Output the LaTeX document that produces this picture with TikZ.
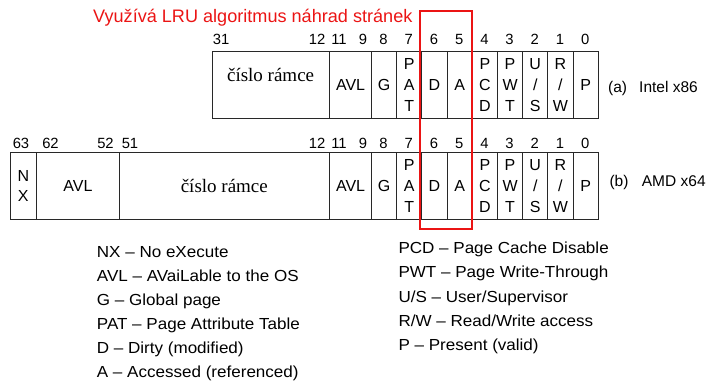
\documentclass[tikz,border=0pt]{standalone}
\usepackage{fontspec}
\setmainfont{Liberation Sans}
\newfontfamily\ramfont{Liberation Serif}
\newfontfamily\legendfont{Liberation Sans}[FakeStretch=1.065]
\definecolor{lrured}{RGB}{235,20,20}
\definecolor{cellline}{RGB}{40,40,40}
\begin{document}
\begin{tikzpicture}[x=1pt,y=-1pt,
  cell/.style={draw=cellline, line width=0.9pt, inner sep=0pt, anchor=north west,
    align=center, font=\fontsize{16}{20.7}\selectfont},
  bitno/.style={inner sep=0pt, anchor=base, font=\fontsize{14.8}{16}\selectfont},
  ramtext/.style={inner sep=0pt, font=\ramfont\fontsize{19}{22}\selectfont},
  archlbl/.style={inner sep=0pt, anchor=base west, font=\fontsize{15.5}{18}\selectfont},
  legend/.style={inner sep=0pt, anchor=base west, font=\legendfont\fontsize{16}{18}\selectfont},
  lrubox/.style={draw=lrured, line width=2pt},
]
\useasboundingbox (0,0) rectangle (709,387);

% title
\node[inner sep=0pt, anchor=base west, text=lrured, font=\fontsize{18.1}{20}\selectfont]
  (title) at (93,22.7) {Využívá LRU algoritmus náhrad stránek};

% ---------- row (a) Intel x86 ----------
\def\ta{50.7}\def\ha{67.6}
\node[cell, minimum width=117.3, minimum height=\ha] (aram) at (212,\ta) {};
\node[ramtext] (aramt) at (270.6,75) {číslo rámce};
\node[cell, minimum width=41.7, minimum height=\ha] (aavl) at (329.3,\ta) {AVL};
\node[cell, minimum width=25.2, minimum height=\ha] (ag) at (371,\ta) {G};
\node[cell, minimum width=25.2, minimum height=\ha] (apat) at (396.2,\ta) {P\\A\\T};
\node[cell, minimum width=25.2, minimum height=\ha] (ad) at (421.4,\ta) {D};
\node[cell, minimum width=25.2, minimum height=\ha] (aa) at (446.6,\ta) {A};
\node[cell, minimum width=25.2, minimum height=\ha] (apcd) at (471.8,\ta) {P\\C\\D};
\node[cell, minimum width=25.2, minimum height=\ha] (apwt) at (497,\ta) {P\\W\\T};
\node[cell, minimum width=25.2, minimum height=\ha] (aus) at (522.2,\ta) {U\\/\\S};
\node[cell, minimum width=25.2, minimum height=\ha] (arw) at (547.4,\ta) {R\\/\\W};
\node[cell, minimum width=25.2, minimum height=\ha] (ap) at (572.6,\ta) {P};

\node[bitno] (a31) at (221,44.3) {31};
\node[bitno] (a12) at (317,44.3) {12};
\node[bitno] (a11) at (339,44.3) {11};
\node[bitno] (a9) at (363,44.3) {9};
\node[bitno] (a8) at (383.6,44.3) {8};
\node[bitno] (a7) at (408.8,44.3) {7};
\node[bitno] (a6) at (434,44.3) {6};
\node[bitno] (a5) at (459.2,44.3) {5};
\node[bitno] (a4) at (484.4,44.3) {4};
\node[bitno] (a3) at (509.6,44.3) {3};
\node[bitno] (a2) at (534.8,44.3) {2};
\node[bitno] (a1) at (560,44.3) {1};
\node[bitno] (a0) at (585.2,44.3) {0};

\node[archlbl] (alab) at (608,92.8) {(a)};
\node[archlbl] (aname) at (639,92.8) {Intel x86};

% ---------- row (b) AMD x64 ----------
\def\tb{151.7}\def\hb{67.6}
\node[cell, minimum width=25.7, minimum height=\hb] (bnx) at (10,\tb) {N\\X};
\node[cell, minimum width=83.6, minimum height=\hb] (bavl2) at (35.7,\tb) {AVL};
\node[cell, minimum width=210, minimum height=\hb] (bram) at (119.3,\tb) {};
\node[ramtext] (bramt) at (224.3,186) {číslo rámce};
\node[cell, minimum width=41.7, minimum height=\hb] (bavl) at (329.3,\tb) {AVL};
\node[cell, minimum width=25.2, minimum height=\hb] (bg) at (371,\tb) {G};
\node[cell, minimum width=25.2, minimum height=\hb] (bpat) at (396.2,\tb) {P\\A\\T};
\node[cell, minimum width=25.2, minimum height=\hb] (bd) at (421.4,\tb) {D};
\node[cell, minimum width=25.2, minimum height=\hb] (ba) at (446.6,\tb) {A};
\node[cell, minimum width=25.2, minimum height=\hb] (bpcd) at (471.8,\tb) {P\\C\\D};
\node[cell, minimum width=25.2, minimum height=\hb] (bpwt) at (497,\tb) {P\\W\\T};
\node[cell, minimum width=25.2, minimum height=\hb] (bus) at (522.2,\tb) {U\\/\\S};
\node[cell, minimum width=25.2, minimum height=\hb] (brw) at (547.4,\tb) {R\\/\\W};
\node[cell, minimum width=25.2, minimum height=\hb] (bp) at (572.6,\tb) {P};

\node[bitno] (b63) at (21,148.3) {63};
\node[bitno] (b62) at (50.5,148.3) {62};
\node[bitno] (b52) at (105.5,148.3) {52};
\node[bitno] (b51) at (130,148.3) {51};
\node[bitno] (b12) at (317,148.3) {12};
\node[bitno] (b11) at (339,148.3) {11};
\node[bitno] (b9) at (363,148.3) {9};
\node[bitno] (b8) at (383.6,148.3) {8};
\node[bitno] (b7) at (408.8,148.3) {7};
\node[bitno] (b6) at (434,148.3) {6};
\node[bitno] (b5) at (459.2,148.3) {5};
\node[bitno] (b4) at (484.4,148.3) {4};
\node[bitno] (b3) at (509.6,148.3) {3};
\node[bitno] (b2) at (534.8,148.3) {2};
\node[bitno] (b1) at (560,148.3) {1};
\node[bitno] (b0) at (585.2,148.3) {0};

\node[archlbl] (blab) at (609.3,186.7) {(b)};
\node[archlbl] (bname) at (641.7,186.7) {AMD x64};

% ---------- LRU highlight ----------
\coordinate (lrutl) at (420,11);
\coordinate (lrubr) at (471.8,229.3);
\draw[lrubox] (lrutl) rectangle (lrubr);

% ---------- legend ----------
\node[legend] (l1) at (96.7,257.7) {NX – No eXecute};
\node[legend] (l2) at (96.7,281.7) {AVL – AVaiLable to the OS};
\node[legend] (l3) at (96.7,305.7) {G – Global page};
\node[legend] (l4) at (96.7,329.7) {PAT – Page Attribute Table};
\node[legend] (l5) at (96.7,353.7) {D – Dirty (modified)};
\node[legend] (l6) at (96.7,377.7) {A – Accessed (referenced)};

\node[legend] (r1) at (398.3,253.7) {PCD – Page Cache Disable};
\node[legend] (r2) at (398.3,277.9) {PWT – Page Write-Through};
\node[legend] (r3) at (398.3,302.1) {U/S – User/Supervisor};
\node[legend] (r4) at (398.3,326.3) {R/W – Read/Write access};
\node[legend] (r5) at (398.3,350.5) {P – Present (valid)};
\end{tikzpicture}
\end{document}
